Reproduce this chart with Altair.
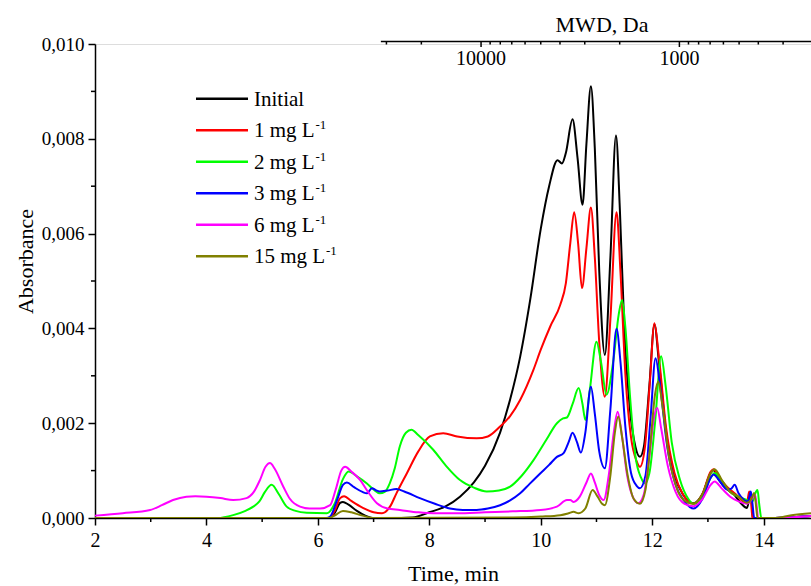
import altair as alt
import pandas as pd

FONT = "Liberation Serif"

SERIES = ["Initial", "1 mg L", "2 mg L", "3 mg L", "6 mg L", "15 mg L"]
COLORS = ["#000000", "#ff0000", "#00ff00", "#0000ff", "#ff00ff", "#808000"]

# Absorbance values in units of 0.001
t_init = [2.0, 6.2, 6.3, 6.4, 6.45, 6.55, 6.7, 6.85, 7.0, 7.5, 7.7, 8.0, 8.3, 8.55, 8.8, 9.0, 9.27, 9.45,
          9.63, 9.81, 10.0, 10.15, 10.3, 10.38, 10.45, 10.57, 10.66, 10.75, 10.82, 10.9, 10.97, 11.05,
          11.15, 11.25, 11.35, 11.42, 11.5, 11.6, 11.7, 11.78, 11.85, 11.95, 12.04, 12.12, 12.25, 12.4,
          12.55, 12.74, 12.9, 13.05, 13.1, 13.2, 13.35, 13.45, 13.6, 13.7, 13.76, 13.78, 13.8, 14.2, 14.85]
a_init = [0.0, 0.0, 0.1, 0.32, 0.34, 0.28, 0.15, 0.05, 0.0, 0.0, 0.01, 0.12, 0.25, 0.45, 0.75, 1.1, 1.8, 2.5,
          3.4, 4.6, 6.1, 7.0, 7.55, 7.48, 7.7, 8.41, 7.6, 6.61, 7.9, 9.11, 7.8, 5.2,
          3.44, 5.5, 8.07, 6.5, 4.0, 2.3, 1.5, 1.29, 1.5, 2.8, 4.08, 3.3, 1.8, 0.9,
          0.5, 0.31, 0.5, 0.95, 1.01, 0.8, 0.6, 0.52, 0.3, 0.21, 0.5, 0.52, 0.0, 0.0, 0.04]

t_1 = [2.0, 6.2, 6.3, 6.4, 6.47, 6.6, 6.8, 7.0, 7.15, 7.3, 7.41, 7.6, 7.8, 8.01, 8.25, 8.5, 8.85, 9.05,
       9.27, 9.45, 9.63, 9.87, 10.0, 10.17, 10.35, 10.45, 10.53, 10.6, 10.67, 10.74, 10.82, 10.9, 10.97,
       11.05, 11.15, 11.25, 11.36, 11.43, 11.52, 11.62, 11.72, 11.78, 11.87, 11.96, 12.04, 12.12, 12.25,
       12.4, 12.55, 12.74, 12.9, 13.05, 13.1, 13.2, 13.35, 13.5, 13.65, 13.7, 13.74, 13.77, 13.8, 14.2, 14.85]
a_1 = [0.0, 0.0, 0.15, 0.42, 0.46, 0.36, 0.22, 0.12, 0.1, 0.25, 0.52, 0.95, 1.4, 1.72, 1.79, 1.72, 1.68, 1.72,
       1.93, 2.15, 2.49, 3.13, 3.55, 4.04, 4.5, 4.95, 5.8, 6.45, 5.8, 4.85, 5.7, 6.55, 5.5,
       3.7, 2.56, 4.2, 6.45, 5.2, 3.0, 1.7, 1.2, 1.08, 1.5, 2.9, 4.11, 3.4, 1.9,
       0.95, 0.5, 0.3, 0.5, 0.98, 1.03, 0.85, 0.65, 0.5, 0.33, 0.31, 0.56, 0.4, 0.0, 0.0, 0.04]

t_2 = [2.0, 4.2, 4.48, 4.7, 4.84, 4.95, 5.05, 5.17, 5.3, 5.44, 5.6, 5.8, 6.16, 6.3, 6.45, 6.55, 6.7, 6.88,
       7.0, 7.11, 7.2, 7.29, 7.38, 7.47, 7.58, 7.68, 7.8, 8.07, 8.3, 8.55, 8.8, 9.03, 9.25, 9.45, 9.65,
       9.87, 10.1, 10.29, 10.4, 10.47, 10.57, 10.68, 10.75, 10.8, 10.88, 11.0, 11.08, 11.18, 11.3, 11.4,
       11.46, 11.52, 11.6, 11.7, 11.8, 11.87, 11.95, 12.05, 12.16, 12.24, 12.35, 12.5, 12.65, 12.74, 12.9,
       13.05, 13.12, 13.25, 13.4, 13.55, 13.7, 13.8, 13.86, 13.89, 13.92, 13.96, 14.2, 14.85]
a_2 = [0.0, 0.0, 0.06, 0.15, 0.24, 0.35, 0.55, 0.7, 0.5, 0.24, 0.15, 0.11, 0.1, 0.3, 0.82, 0.98, 0.88, 0.73,
       0.6, 0.52, 0.55, 0.73, 1.05, 1.51, 1.8, 1.86, 1.75, 1.44, 1.1, 0.8, 0.64, 0.56, 0.58, 0.66, 0.88,
       1.22, 1.65, 2.0, 2.1, 2.12, 2.4, 2.74, 2.4, 2.07, 2.7, 3.72, 3.3, 2.6, 3.3, 4.3,
       4.6, 4.0, 2.6, 1.3, 0.85, 0.73, 0.95, 2.0, 3.41, 2.8, 1.6, 0.8, 0.4, 0.3, 0.45,
       0.85, 0.95, 0.78, 0.55, 0.45, 0.38, 0.35, 0.55, 0.59, 0.3, 0.0, 0.0, 0.04]

t_3 = [2.0, 6.15, 6.22, 6.35, 6.45, 6.52, 6.65, 6.8, 6.88, 6.97, 7.05, 7.11, 7.25, 7.41, 7.55, 7.83, 8.1,
       8.37, 8.6, 8.85, 9.05, 9.27, 9.45, 9.63, 9.8, 9.99, 10.15, 10.29, 10.41, 10.5, 10.57, 10.65, 10.72,
       10.8, 10.9, 10.97, 11.05, 11.15, 11.25, 11.36, 11.43, 11.52, 11.62, 11.72, 11.78, 11.88, 11.97,
       12.06, 12.14, 12.27, 12.42, 12.58, 12.74, 12.9, 13.05, 13.1, 13.2, 13.35, 13.42, 13.48, 13.55,
       13.65, 13.72, 13.77, 13.8, 13.83, 14.2, 14.85]
a_3 = [0.0, 0.0, 0.03, 0.4, 0.7, 0.75, 0.65, 0.55, 0.52, 0.63, 0.58, 0.56, 0.58, 0.61, 0.56, 0.42, 0.3,
       0.2, 0.17, 0.17, 0.2, 0.27, 0.37, 0.52, 0.72, 0.94, 1.12, 1.29, 1.37, 1.6, 1.8, 1.6, 1.38,
       1.8, 2.77, 2.2, 1.4, 1.05, 2.3, 3.99, 3.3, 1.9, 0.95, 0.68, 0.63, 0.9, 2.1,
       3.37, 2.8, 1.5, 0.7, 0.35, 0.2, 0.4, 0.85, 0.92, 0.8, 0.6, 0.62, 0.7, 0.52,
       0.38, 0.35, 0.56, 0.3, 0.0, 0.0, 0.04]

t_6 = [2.0, 2.5, 2.99, 3.2, 3.4, 3.64, 3.8, 4.0, 4.25, 4.48, 4.72, 4.85, 4.96, 5.06, 5.14, 5.22, 5.38, 5.5,
       5.68, 5.85, 6.04, 6.22, 6.32, 6.42, 6.49, 6.6, 6.76, 6.9, 7.06, 7.25, 7.47, 7.8, 8.07, 8.5, 9.0,
       9.5, 10.0, 10.29, 10.47, 10.53, 10.59, 10.7, 10.82, 10.9, 10.97, 11.05, 11.13, 11.22, 11.31, 11.38,
       11.45, 11.55, 11.65, 11.75, 11.85, 11.95, 12.03, 12.09, 12.16, 12.28, 12.42, 12.58, 12.74, 12.9,
       13.05, 13.12, 13.25, 13.4, 13.55, 13.7, 13.82, 13.85, 13.88, 13.9, 14.2, 14.85]
a_6 = [0.05, 0.1, 0.17, 0.27, 0.38, 0.45, 0.46, 0.45, 0.42, 0.38, 0.42, 0.55, 0.8, 1.08, 1.16, 1.05, 0.66, 0.4,
       0.24, 0.2, 0.2, 0.27, 0.6, 1.0, 1.08, 0.98, 0.8, 0.55, 0.31, 0.2, 0.17, 0.12, 0.1, 0.1, 0.12,
       0.14, 0.17, 0.24, 0.38, 0.38, 0.34, 0.45, 0.75, 0.94, 0.75, 0.48, 0.38, 0.9, 1.8, 2.24,
       1.8, 0.9, 0.45, 0.31, 0.5, 1.3, 2.1, 2.32, 1.9, 1.1, 0.55, 0.3, 0.25, 0.4,
       0.7, 0.77, 0.62, 0.45, 0.35, 0.3, 0.45, 0.48, 0.2, 0.0, 0.0, 0.04]

t_15 = [2.0, 6.2, 6.3, 6.45, 6.6, 6.8, 7.0, 9.5, 10.0, 10.35, 10.5, 10.59, 10.68, 10.8, 10.93, 11.02, 11.1,
        11.15, 11.25, 11.33, 11.39, 11.46, 11.56, 11.67, 11.78, 11.88, 11.97, 12.05, 12.11, 12.18, 12.3,
        12.45, 12.6, 12.74, 12.9, 13.05, 13.12, 13.25, 13.4, 13.55, 13.7, 13.78, 13.83, 13.86, 13.89,
        14.2, 14.5, 14.85]
a_15 = [0.0, 0.0, 0.05, 0.15, 0.12, 0.05, 0.0, 0.01, 0.03, 0.06, 0.1, 0.13, 0.1, 0.2, 0.59, 0.45, 0.3,
        0.27, 0.9, 1.8, 2.14, 1.7, 0.9, 0.4, 0.3, 0.6, 1.6, 2.6, 2.88, 2.4, 1.3,
        0.6, 0.35, 0.3, 0.5, 0.95, 1.03, 0.8, 0.55, 0.45, 0.32, 0.4, 0.53, 0.3, 0.0,
        0.0, 0.06, 0.1]

SERIES_T = [t_init, t_1, t_2, t_3, t_6, t_15]
SERIES_A = [a_init, a_1, a_2, a_3, a_6, a_15]

X_TICKS = [2, 4, 6, 8, 10, 12, 14]
X_MINOR = [3, 5, 7, 9, 11, 13]
Y_TICKS = [0, 2, 4, 6, 8, 10]
Y_MINOR = [1, 3, 5, 7, 9]
MWD_MAJOR = [10000, 1000]
MWD_MINOR = [30000, 20000, 9000, 8000, 7000, 6000, 5000, 4000, 3000, 2000, 900, 800, 700, 600, 500, 400, 300]
MWD_RANGE = [32000, 217]

W, H = 716, 474
xs = alt.Scale(domain=[2, 14.85], nice=False, zero=False)
ys = alt.Scale(domain=[0, 10], nice=False, zero=False)
mwd_scale = alt.Scale(type="log", domain=[884000, 217], nice=False)

xaxis = alt.Axis(values=X_TICKS, format="d", tickSize=7, tickWidth=1.5, tickColor="black",
                 domainColor="black", domainWidth=1.5, labelFontSize=20, labelColor="black",
                 labelPadding=5, labelFlush=False, grid=False, title="Time, min",
                 titleFontSize=22, titleFontWeight="normal", titleColor="black",
                 titleY=62, titleBaseline="alphabetic")
yaxis = alt.Axis(values=Y_TICKS, labelExpr="replace(format(datum.value/1000, '.3f'), '.', ',')",
                 tickSize=7, tickWidth=1.5, tickColor="black", domainColor="black", domainWidth=1.5,
                 labelFontSize=19, labelColor="black", labelPadding=4, grid=False,
                 title="Absorbance", titleFontSize=22, titleFontWeight="normal", titleColor="black",
                 titleX=-63, titleY=217, titleBaseline="alphabetic", titleAlign="center")

layers = []
for i, (name, tt, aa) in enumerate(zip(SERIES, SERIES_T, SERIES_A)):
    df = pd.DataFrame({"t": tt, "a": aa})
    layers.append(
        alt.Chart(df).mark_line(strokeWidth=2, color=COLORS[i], interpolate="monotone", clip=True).encode(
            x=alt.X("t:Q", scale=xs, axis=xaxis if i == 0 else None),
            y=alt.Y("a:Q", scale=ys, axis=yaxis),
        )
    )

# minor ticks
layers.append(alt.Chart(pd.DataFrame({"t": X_MINOR})).mark_rule(color="black", strokeWidth=1.5).encode(
    x=alt.X("t:Q", scale=xs, axis=None), y=alt.value(H), y2=alt.value(H + 4)))
layers.append(alt.Chart(pd.DataFrame({"a": Y_MINOR})).mark_rule(color="black", strokeWidth=1.5).encode(
    y=alt.Y("a:Q", scale=ys, axis=yaxis), x=alt.value(0), x2=alt.value(-4)))

# top MWD axis
layers.append(alt.Chart(pd.DataFrame({"d0": [MWD_RANGE[0]], "d1": [MWD_RANGE[1]]})).mark_rule(
    color="black", strokeWidth=1.5).encode(
    x=alt.X("d0:Q", scale=mwd_scale, axis=None), x2="d1:Q", y=alt.value(-2.5)))
layers.append(alt.Chart(pd.DataFrame({"d": MWD_MAJOR})).mark_rule(color="black", strokeWidth=1.5).encode(
    x=alt.X("d:Q", scale=mwd_scale, axis=None), y=alt.value(-2.5), y2=alt.value(3)))
layers.append(alt.Chart(pd.DataFrame({"d": MWD_MINOR})).mark_rule(color="black", strokeWidth=1.5).encode(
    x=alt.X("d:Q", scale=mwd_scale, axis=None), y=alt.value(-2.5), y2=alt.value(0.5)))
layers.append(alt.Chart(pd.DataFrame({"d": MWD_MAJOR, "lab": [str(v) for v in MWD_MAJOR]})).mark_text(
    fontSize=20, font=FONT, align="center", baseline="alphabetic", color="black").encode(
    x=alt.X("d:Q", scale=mwd_scale, axis=None), y=alt.value(21), text="lab:N"))
layers.append(alt.Chart(pd.DataFrame({"lab": ["MWD, Da"]})).mark_text(
    fontSize=22, font=FONT, align="center", baseline="alphabetic", color="black").encode(
    x=alt.value(507), y=alt.value(-12), text="lab:N"))

# legend
for i, name in enumerate(SERIES):
    ry = 54.7 + i * 31.5
    one = pd.DataFrame({"lab": [name]})
    layers.append(alt.Chart(one).mark_rule(color=COLORS[i], strokeWidth=2.5).encode(
        x=alt.value(101), x2=alt.value(153), y=alt.value(ry)))
    layers.append(alt.Chart(one).mark_text(fontSize=21, font=FONT, align="left", baseline="middle",
                                           color="black").encode(
        x=alt.value(159), y=alt.value(ry + 1), text="lab:N"))
    if i > 0:
        sx = 220.5 + (len(name.split(" ")[0]) - 1) * 10.5
        layers.append(alt.Chart(pd.DataFrame({"lab": ["-1"]})).mark_text(
            fontSize=13, font=FONT, align="left", baseline="middle", color="black").encode(
            x=alt.value(sx), y=alt.value(ry - 5), text="lab:N"))

chart = alt.layer(*layers).resolve_scale(x="independent").properties(
    width=W, height=H,
    autosize=alt.AutoSizeParams(type="none"),
    padding={"left": 95, "top": 44, "right": 0, "bottom": 68},
    background="white",
).configure_view(stroke=None).configure(font=FONT)

chart.save("out.html", embed_options={"renderer": "svg", "actions": False})
